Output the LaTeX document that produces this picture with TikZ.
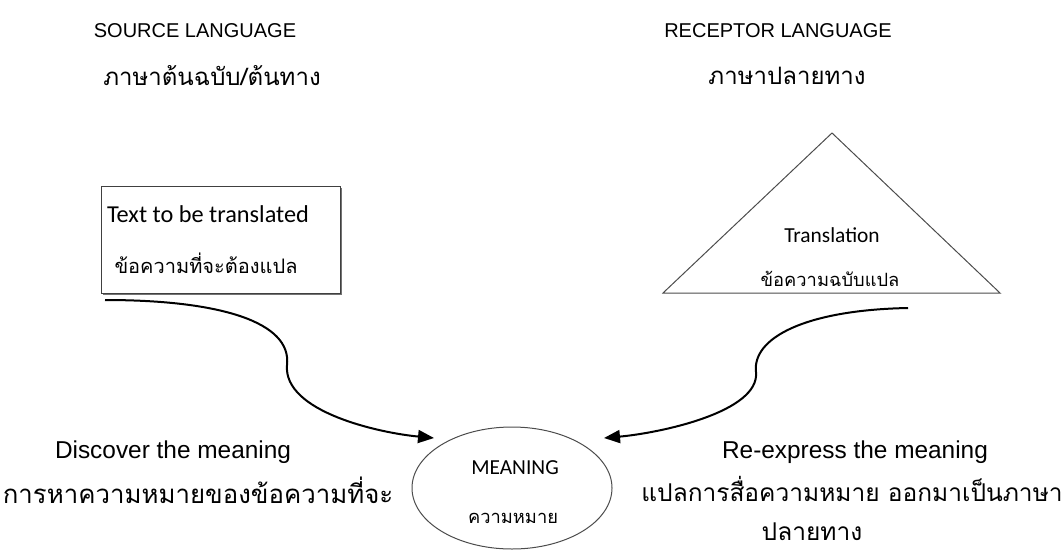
\documentclass[tikz,border=0pt]{standalone}
\usepackage{fontspec}
\setmainfont{Liberation Sans}
\newfontfamily\thaifont[Script=Thai]{Loma}
\newfontfamily\calfont{Carlito}
\usetikzlibrary{arrows.meta,shapes.geometric,shadows}
\begin{document}
\begin{tikzpicture}[x=1pt,y=-1pt,
  toplbl/.style={inner sep=0pt,font=\fontsize{20}{24}\selectfont},
  botlbl/.style={inner sep=0pt,font=\fontsize{24.4}{28}\selectfont},
  thaiout/.style={inner sep=0pt,font=\thaifont\fontsize{24.5}{28}\selectfont},
  innereng/.style={inner sep=0pt,font=\calfont\fontsize{24.3}{28}\selectfont},
  innerthai/.style={inner sep=0pt,font=\thaifont\fontsize{20}{24}\selectfont},
  smalleng/.style={inner sep=0pt,font=\calfont\fontsize{21.4}{25}\selectfont},
  smallthai/.style={inner sep=0pt,font=\thaifont\fontsize{18.3}{22}\selectfont},
  arr/.style={line width=2pt,-{Triangle[length=16pt,width=13pt]}},
  ]
\useasboundingbox (0,0) rectangle (1064,551);
% top labels
\node[toplbl] (src) at (195,31) {SOURCE LANGUAGE};
\node[thaiout,font=\thaifont\fontsize{24}{28}\selectfont] (srcth) at (212,76) {ภาษาต้นฉบับ/ต้นทาง};
\node[toplbl] (rec) at (778,31) {RECEPTOR LANGUAGE};
\node[thaiout,font=\thaifont\fontsize{24}{28}\selectfont] (recth) at (787,76) {ภาษาปลายทาง};
% box
\node[draw=black!75,line width=1pt,fill=white,minimum width=239pt,minimum height=107pt,inner sep=0pt,
  drop shadow={shadow xshift=2pt,shadow yshift=-2pt,fill=black!55,opacity=1}] (box) at (220.5,239.5) {};
\node[innereng] (boxen) at (208,214) {Text to be translated};
\node[innerthai] (boxth) at (206,263) {ข้อความที่จะต้องแปล};
% triangle
\coordinate (apex) at (832,133);
\coordinate (bl) at (663,293);
\coordinate (br) at (1000,293);
\draw[black!70,line width=1pt] (apex) -- (bl) -- (br) -- cycle;
\node[smalleng] (trien) at (832,235) {Translation};
\node[smallthai] (trith) at (830,279) {ข้อความฉบับแปล};
% ellipse
\node[ellipse,draw=black!70,line width=1pt,minimum width=200pt,minimum height=122pt,inner sep=0pt] (mean) at (512,488) {};
\node[smalleng] (meanen) at (515,468) {MEANING};
\node[smallthai] (meanth) at (513,518) {ความหมาย};
% bottom labels
\node[botlbl] (disc) at (173,452) {Discover the meaning};
\node[thaiout,font=\thaifont\fontsize{25.8}{30}\selectfont] (discth) at (198,490) {การหาความหมายของข้อความที่จะ};
\node[botlbl] (rex) at (855,452) {Re-express the meaning};
\node[thaiout] (rexth) at (852,489) {แปลการสื่อความหมาย ออกมาเป็นภาษา};
\node[thaiout] (rexth2) at (812,532) {ปลายทาง};
% arrows
\coordinate (ls) at (105,300);
\coordinate (le) at (434,438);
\coordinate (rs) at (908,308);
\coordinate (re) at (604,438);
\draw[arr] (ls) .. controls (220,300) and (292,322) .. (287,365) .. controls (283,412) and (380,433) .. (le);
\draw[arr] (rs) .. controls (805,310) and (752,338) .. (756,372) .. controls (760,412) and (660,433) .. (re);
\end{tikzpicture}
\end{document}
